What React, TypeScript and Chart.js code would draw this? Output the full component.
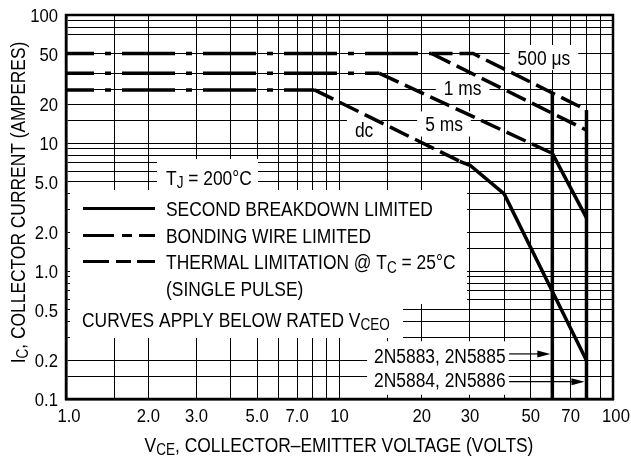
import React, { useEffect, useRef } from 'react';
import { Chart, registerables } from 'chart.js';

Chart.register(...registerables);

const FONT = '"Liberation Sans", Arial, "Noto Sans", sans-serif';
const TEXT_SIZE = 20;
const TEXT_SQUEEZE = 0.87;
const TICK_SIZE = 18.5;
const TICK_SQUEEZE = 0.9;

// ---- axes ----
const xGridValues = [1, 1.5, 2, 3, 4, 5, 6, 7, 8, 9, 10, 15, 20, 30, 40, 50, 60, 70, 80, 90, 100];
const xLabelValues = [1, 2, 3, 5, 7, 10, 20, 30, 50, 70, 100];
const xTickLabels = ['1.0', '2.0', '3.0', '5.0', '7.0', '10', '20', '30', '50', '70', '100'];
const yGridValues = [0.1, 0.15, 0.2, 0.3, 0.4, 0.5, 0.6, 0.7, 0.8, 0.9, 1, 1.5, 2, 3, 4, 5, 6, 7, 8, 9, 10, 15, 20, 26, 35, 50, 70, 80, 90, 100];
const yLabelValues = [0.1, 0.2, 0.5, 1, 2, 5, 10, 20, 50, 100];
const yTickLabels = ['0.1', '0.2', '0.5', '1.0', '2.0', '5.0', '10', '20', '50', '100'];

// ---- bonding wire limited (dash-dot) ----
const bond50V = [1, 21.7];
const bond50I = [50, 50];
const bond35V = [1, 14];
const bond35I = [35, 35];
const bond26V = [1, 8.1];
const bond26I = [26, 26];

// ---- thermal limitation (dashed) ----
const th500usV = [21.7, 30.8, 80];
const th500usI = [50, 50, 18.1];
const th1msV = [21.7, 80];
const th1msI = [50, 12.6];
const th5msV = [14, 60];
const th5msI = [35, 8.3];
const thDcV = [8.1, 27.5];
const thDcI = [26, 7.2];

// ---- second breakdown limited (solid) ----
const sb5msV = [60, 80];
const sb5msI = [8.3, 2.6];
const sbDcV = [27.5, 30, 40, 80];
const sbDcI = [7.2, 6.7, 4.0, 0.2];

// ---- rated VCEO limits (solid) ----
const vceo60V = [60, 60];
const vceo60I = [24.6, 0.1];
const vceo80V = [80, 80];
const vceo80I = [18.1, 0.1];

// ---- curve labels (center x, baseline y in data units) ----
const curveLabelText = ['500 \u03bcs', '1 ms', '5 ms', 'dc'];
const curveLabelV = [55.9, 28.2, 24.1, 12.3];
const curveLabelI = [40.7, 23.7, 12.3, 11.1];

// ---- device part labels ----
const partText = ['2N5883, 2N5885', '2N5884, 2N5886'];
const partTextV = [40.5, 40.5];
const partTextI = [0.19, 0.1247];
const partArrowI = [0.225, 0.1365];
const partArrowStartV = [41.7, 41.7];
const partArrowEndV = [60, 80];

type Part = { t: string; sub?: boolean };

function partsWidth(ctx: CanvasRenderingContext2D, parts: Part[], size: number, k: number) {
  let w = 0;
  for (const p of parts) {
    ctx.font = `${p.sub ? size * 0.78 : size}px ${FONT}`;
    w += ctx.measureText(p.t).width;
  }
  return w * k;
}

function drawRich(
  ctx: CanvasRenderingContext2D,
  parts: Part[],
  x: number,
  y: number,
  size: number,
  align: 'left' | 'center' | 'right' = 'left',
  k: number = TEXT_SQUEEZE,
) {
  const w = partsWidth(ctx, parts, size, k);
  const x0 = align === 'left' ? x : align === 'right' ? x - w : x - w / 2;
  ctx.save();
  ctx.translate(x0, y);
  ctx.scale(k, 1);
  ctx.textAlign = 'left';
  ctx.textBaseline = 'alphabetic';
  let cx = 0;
  for (const p of parts) {
    const s = p.sub ? size * 0.78 : size;
    ctx.font = `${s}px ${FONT}`;
    ctx.fillText(p.t, cx, p.sub ? size * 0.17 : 0);
    cx += ctx.measureText(p.t).width;
  }
  ctx.restore();
  return w;
}

function seg(ctx: CanvasRenderingContext2D, x1: number, y: number, x2: number) {
  ctx.beginPath();
  ctx.moveTo(x1, y);
  ctx.lineTo(x2, y);
  ctx.stroke();
}

const overlay = {
  id: 'soaOverlay',
  beforeDatasetsDraw(chart: any) {
    const ctx: CanvasRenderingContext2D = chart.ctx;
    const xs = chart.scales.x;
    const ys = chart.scales.y;
    ctx.save();
    ctx.fillStyle = '#fff';
    // legend panel
    ctx.fillRect(157, 159, 101, 32);
    ctx.fillRect(70, 190, 397, 114);
    ctx.fillRect(70, 303, 333, 35);
    // curve label backgrounds
    curveLabelText.forEach((t, i) => {
      const cx = xs.getPixelForValue(curveLabelV[i]);
      const by = ys.getPixelForValue(curveLabelI[i]);
      const w = partsWidth(ctx, [{ t }], TEXT_SIZE, TEXT_SQUEEZE);
      ctx.fillRect(cx - w / 2 - 8, by - 20, w + 16, 25);
    });
    // part number label background
    const pw = partsWidth(ctx, [{ t: partText[0] }], TEXT_SIZE, TEXT_SQUEEZE);
    const rx = xs.getPixelForValue(partTextV[0]);
    const top = ys.getPixelForValue(partTextI[0]) - 22;
    const bot = ys.getPixelForValue(partTextI[1]) + 8;
    ctx.fillRect(rx - pw - 7, top, pw + 10, bot - top);
    ctx.restore();
  },
  afterDatasetsDraw(chart: any) {
    const ctx: CanvasRenderingContext2D = chart.ctx;
    const xs = chart.scales.x;
    const ys = chart.scales.y;
    const a = chart.chartArea;
    ctx.save();
    ctx.strokeStyle = '#000';
    ctx.fillStyle = '#000';
    // frame
    ctx.lineWidth = 2.5;
    ctx.strokeRect(a.left, a.top, a.right - a.left, a.bottom - a.top);

    // legend samples
    ctx.lineWidth = 3;
    ctx.lineCap = 'butt';
    seg(ctx, 83, 208.5, 155);
    seg(ctx, 83, 235.5, 114);
    seg(ctx, 122, 235.5, 132);
    seg(ctx, 139, 235.5, 155);
    seg(ctx, 83, 261.5, 109);
    seg(ctx, 116, 261.5, 131);
    seg(ctx, 137, 261.5, 155);

    // legend texts
    drawRich(ctx, [{ t: 'T' }, { t: 'J', sub: true }, { t: ' = 200\u00b0C' }], 166, 185, TEXT_SIZE);
    drawRich(ctx, [{ t: 'SECOND BREAKDOWN LIMITED' }], 166, 216, TEXT_SIZE);
    drawRich(ctx, [{ t: 'BONDING WIRE LIMITED' }], 166, 242.7, TEXT_SIZE);
    drawRich(ctx, [{ t: 'THERMAL LIMITATION @ T' }, { t: 'C', sub: true }, { t: ' = 25\u00b0C' }], 166, 269.3, TEXT_SIZE);
    drawRich(ctx, [{ t: '(SINGLE PULSE)' }], 166, 296, TEXT_SIZE);
    drawRich(ctx, [{ t: 'CURVES APPLY BELOW RATED V' }, { t: 'CEO', sub: true }], 82, 326.7, TEXT_SIZE);

    // curve labels
    curveLabelText.forEach((t, i) => {
      drawRich(ctx, [{ t }], xs.getPixelForValue(curveLabelV[i]), ys.getPixelForValue(curveLabelI[i]), TEXT_SIZE, 'center');
    });

    // part labels and arrows
    partText.forEach((t, i) => {
      drawRich(ctx, [{ t }], xs.getPixelForValue(partTextV[i]), ys.getPixelForValue(partTextI[i]), TEXT_SIZE, 'right');
      const y = ys.getPixelForValue(partArrowI[i]);
      const x1 = xs.getPixelForValue(partArrowStartV[i]);
      const x2 = xs.getPixelForValue(partArrowEndV[i]) - 2;
      ctx.lineWidth = 1.2;
      seg(ctx, x1, y, x2 - 10);
      ctx.beginPath();
      ctx.moveTo(x2, y);
      ctx.lineTo(x2 - 13, y - 3.5);
      ctx.lineTo(x2 - 13, y + 3.5);
      ctx.closePath();
      ctx.fill();
    });

    // tick labels
    xLabelValues.forEach((v, i) => {
      let px = xs.getPixelForValue(v);
      if (i === 0) px += 3;
      if (i === xLabelValues.length - 1) px += 3;
      drawRich(ctx, [{ t: xTickLabels[i] }], px, a.bottom + 22.5, TICK_SIZE, 'center', TICK_SQUEEZE);
    });
    yLabelValues.forEach((v, i) => {
      const py = ys.getPixelForValue(v);
      drawRich(ctx, [{ t: yTickLabels[i] }], a.left - 8, py + 7, TICK_SIZE, 'right', TICK_SQUEEZE);
    });

    // axis titles
    drawRich(ctx, [{ t: 'V' }, { t: 'CE', sub: true }, { t: ', COLLECTOR\u2013EMITTER VOLTAGE (VOLTS)' }], 339, 451.7, TEXT_SIZE, 'center');
    ctx.save();
    ctx.translate(24.5, 202.5);
    ctx.rotate(-Math.PI / 2);
    drawRich(ctx, [{ t: 'I' }, { t: 'C', sub: true }, { t: ', COLLECTOR CURRENT (AMPERES)' }], 0, 0, TEXT_SIZE, 'center');
    ctx.restore();
    ctx.restore();
  },
};

export default function App() {
  const ref = useRef<HTMLCanvasElement>(null);
  useEffect(() => {
    const canvas = ref.current!;
    const mk = (V: number[], I: number[], dash: number[], offset = 0, width = 3.5) => ({
      data: V.map((v, i) => ({ x: v, y: I[i] })),
      showLine: true,
      borderColor: '#000',
      backgroundColor: '#000',
      borderWidth: width,
      borderDash: dash,
      borderDashOffset: offset,
      borderCapStyle: 'butt',
      borderJoinStyle: 'miter',
      pointRadius: 0,
      pointHoverRadius: 0,
      fill: false,
      tension: 0,
    });
    const dashDot = [53, 11, 6, 11];
    const dashed = [21, 7];
    const chart = new Chart(canvas, {
      type: 'scatter',
      data: {
        datasets: [
          mk(bond50V, bond50I, dashDot, 25),
          mk(bond35V, bond35I, dashDot, 25),
          mk(bond26V, bond26I, dashDot, 25),
          mk(th500usV, th500usI, dashed),
          mk(th1msV, th1msI, dashed),
          mk(th5msV, th5msI, dashed),
          mk(thDcV, thDcI, dashed),
          mk(sb5msV, sb5msI, []),
          mk(sbDcV, sbDcI, []),
          mk(vceo60V, vceo60I, []),
          mk(vceo80V, vceo80I, []),
        ] as any,
      },
      options: {
        animation: false,
        responsive: false,
        events: [],
        layout: { padding: { left: 0, right: 18, top: 15, bottom: 0 } },
        plugins: { legend: { display: false }, tooltip: { enabled: false } },
        scales: {
          x: {
            type: 'logarithmic',
            min: 1,
            max: 100,
            afterBuildTicks: (axis: any) => {
              axis.ticks = xGridValues.map((v) => ({ value: v }));
            },
            afterFit: (s: any) => {
              s.height = 63;
            },
            grid: { color: '#000', lineWidth: 1, drawTicks: false },
            border: { display: true, color: '#000', width: 2.5 },
            ticks: { display: false, autoSkip: false },
          },
          y: {
            type: 'logarithmic',
            min: 0.1,
            max: 100,
            afterBuildTicks: (axis: any) => {
              axis.ticks = yGridValues.map((v) => ({ value: v }));
            },
            afterFit: (s: any) => {
              s.width = 66;
            },
            grid: { color: '#000', lineWidth: 1, drawTicks: false },
            border: { display: true, color: '#000', width: 2.5 },
            ticks: { display: false, autoSkip: false },
          },
        },
      } as any,
      plugins: [overlay],
    });
    return () => chart.destroy();
  }, []);
  return (
    <div style={{ position: 'absolute', left: 0, top: 0, width: 631, height: 462, background: '#fff' }}>
      <canvas ref={ref} width={631} height={462} style={{ display: 'block', width: 631, height: 462 }} />
    </div>
  );
}
